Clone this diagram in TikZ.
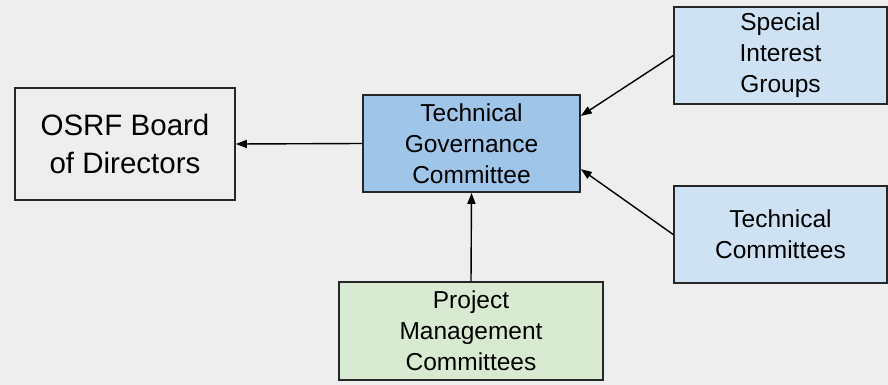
\documentclass[tikz,border=0pt]{standalone}
\usepackage{fontspec}
\setmainfont{Liberation Sans}
\usetikzlibrary{arrows.meta, positioning, calc}
\definecolor{bgGray}{RGB}{238,238,238}
\definecolor{tgcBlue}{RGB}{159,197,232}
\definecolor{lightBlue}{RGB}{207,226,243}
\definecolor{lightGreen}{RGB}{217,234,211}

\begin{document}
\begin{tikzpicture}[
    x=1pt, y=-1pt,
    group/.style={rectangle, draw=black!85, line width=1.6pt, align=center, inner sep=0pt,
        font=\fontsize{24.5}{31}\selectfont},
    arrow/.style={-{Triangle[length=11pt, width=8pt]}, line width=1.4pt}
]

% Background
\fill[bgGray] (0,0) rectangle (888,385);
\useasboundingbox (0,0) rectangle (888,385);

% Committees
\node[group, fill=bgGray, minimum width=220pt, minimum height=112pt,
      font=\fontsize{29.5}{38}\selectfont] (board) at (125,144) {OSRF Board\\of Directors};
\node[group, fill=tgcBlue, minimum width=217pt, minimum height=97pt] (tgc) at (471.5,143.5) {Technical\\Governance\\Committee};
\node[group, fill=lightBlue, minimum width=213pt, minimum height=97pt] (sig) at (780.5,55.5) {Special\\Interest\\Groups};
\node[group, fill=lightBlue, minimum width=213pt, minimum height=97pt] (tc) at (780.5,234.5) {Technical\\Committees};
\node[group, fill=lightGreen, minimum width=264pt, minimum height=98pt] (pmc) at (471,331) {Project\\Management\\Committees};

% Arrows
\draw[arrow] (tgc.west) -- (board.east);
\draw[arrow] (sig.west) -- ($(tgc.north east)!0.22!(tgc.south east)$);
\draw[arrow] (tc.west) -- ($(tgc.north east)!0.76!(tgc.south east)$);
\draw[arrow] (pmc.north) -- (tgc.south);

\end{tikzpicture}
\end{document}
